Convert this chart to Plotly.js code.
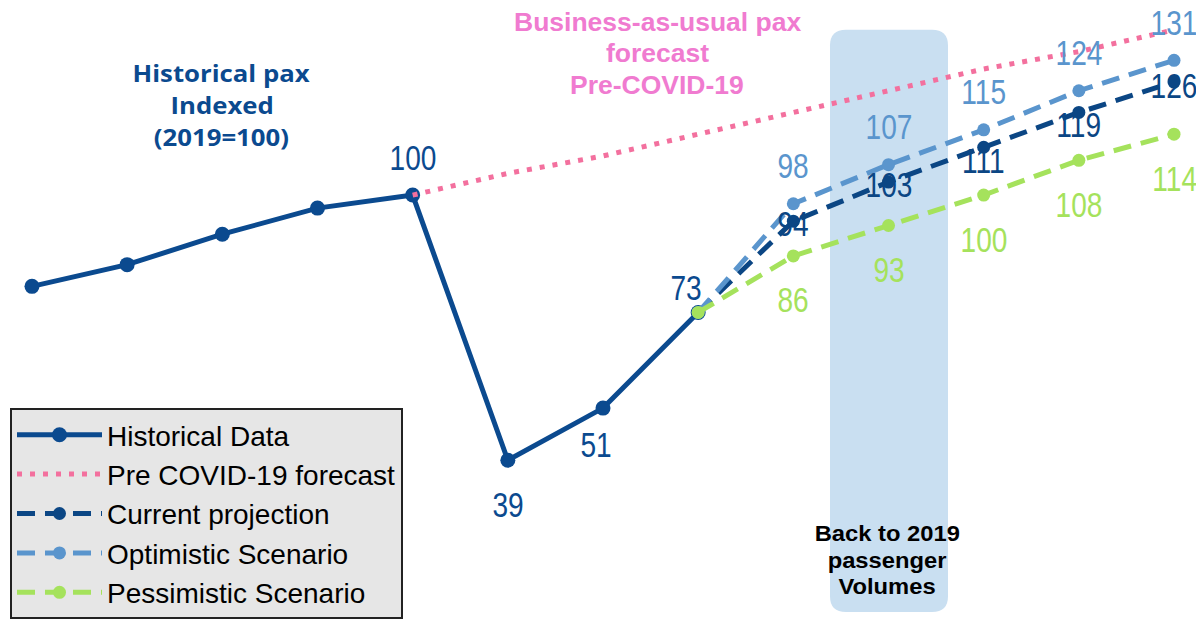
<!DOCTYPE html>
<html>
<head>
<meta charset="utf-8">
<script src="https://cdn.plot.ly/plotly-3.0.1.min.js"></script>
<style>
html,body{margin:0;padding:0;background:#fff;}
#chart{width:1196px;height:619px;}
</style>
</head>
<body>
<div id="chart"></div>
<script>
// ---- data ----
const histYears = [2015, 2016, 2017, 2018, 2019, 2020, 2021, 2022];
const histVals = [79, 84, 91, 97, 100, 39, 51, 73];
const preYears = [2019, 2020, 2021, 2022, 2023, 2024, 2025, 2026, 2027];
const preVals = [100, 105, 109, 114, 119, 124, 129, 133, 138];
const projYears = [2022, 2023, 2024, 2025, 2026, 2027];
const currentVals = [73, 94, 103, 111, 119, 126];
const optimisticVals = [73, 98, 107, 115, 124, 131];
const pessimisticVals = [73, 86, 93, 100, 108, 114];
const seriesNames = ['Historical Data', 'Pre COVID-19 forecast', 'Current projection', 'Optimistic Scenario', 'Pessimistic Scenario'];
const histNote = ['Historical pax', 'Indexed', '(2019=100)'];
const bauNote = ['Business-as-usual pax', 'forecast', 'Pre-COVID-19'];
const bandNote = ['Back to 2019', 'passenger', 'Volumes'];

// ---- styles ----
const W = 1196, H = 619;
const C_HIST = '#0b4a8f';
const C_PRE = '#f3709e';
const C_CUR = '#0b4684';
const C_OPT = '#5a95cd';
const C_PES = '#a5e25c';
const SANS = '"Liberation Sans", Arial, sans-serif';
const LBL = 36, LBL_SX = 0.78;

const traces = [
  {x: histYears, y: histVals, name: seriesNames[0], legendgroup: 'a', mode: 'lines+markers',
   line: {color: C_HIST, width: 5}, marker: {color: C_HIST, size: 15}},
  {x: preYears, y: preVals, name: seriesNames[1], legendgroup: 'b', mode: 'lines',
   line: {color: C_PRE, width: 5, dash: '5px,8px'}},
  {x: projYears, y: currentVals, name: seriesNames[2], legendgroup: 'c', mode: 'lines+markers',
   line: {color: C_CUR, width: 5, dash: '18px,10px'}, marker: {color: C_CUR, size: 13}},
  {x: projYears, y: optimisticVals, name: seriesNames[3], legendgroup: 'd', mode: 'lines+markers',
   line: {color: C_OPT, width: 5, dash: '18px,10px'}, marker: {color: C_OPT, size: 13}},
  {x: projYears, y: pessimisticVals, name: seriesNames[4], legendgroup: 'e', mode: 'lines+markers',
   line: {color: C_PES, width: 5, dash: '18px,10px'}, marker: {color: C_PES, size: 13}}
];

// ---- value labels ----
const annotations = [];
const scales = [];
function lbl(x, y, color, dx, dy) {
  annotations.push({x: x, y: y, xref: 'x', yref: 'y', text: String(y), showarrow: false,
    xanchor: 'center', yanchor: 'middle',
    xshift: dx, yshift: dy, font: {family: SANS, size: LBL, color: color}});
  scales.push(LBL_SX);
}
const histLabelOffsets = {4: [0, 38], 5: [0, -44], 6: [-7, -36], 7: [-12, 25]};
histVals.forEach((v, i) => { if (histLabelOffsets[i]) lbl(histYears[i], v, C_HIST, histLabelOffsets[i][0], histLabelOffsets[i][1]); });
const curDy = [0, -2, -2, -13, -12, -3];
for (let i = 1; i < projYears.length; i++) {
  lbl(projYears[i], optimisticVals[i], C_OPT, 0, 38);
  lbl(projYears[i], currentVals[i], C_CUR, 0, curDy[i]);
  lbl(projYears[i], pessimisticVals[i], C_PES, 0, -44);
}

// ---- text boxes (one annotation per line) ----
function note(lines, cx, cy0, gap, font, sx) {
  lines.forEach((t, i) => {
    annotations.push({xref: 'paper', yref: 'paper', x: cx / W, y: 1 - (cy0 + i * gap) / H,
      xanchor: 'center', yanchor: 'middle', showarrow: false, text: t, font: font});
    scales.push(sx);
  });
}
note(histNote, 222, 74, 32, {family: '"Open Sans", sans-serif', size: 23, color: '#0b4a8f', weight: 'bold'}, 1.12);
note(bauNote, 657, 22, 32, {family: SANS, size: 26.5, color: '#f07bd0', weight: 'bold'}, 1);
note(bandNote, 887, 539, 26.5, {family: SANS, size: 22, color: '#000', weight: 'bold'}, 1.08);

// ---- shaded band (rounded) ----
const bx0 = 830 / W, bx1 = 948 / W, byT = 1 - 30 / H, byB = 1 - 618 / H;
const rx = 16 / W, ry = 16 / H;
const bandPath = `M ${bx0 + rx},${byT} L ${bx1 - rx},${byT} Q ${bx1},${byT} ${bx1},${byT - ry} L ${bx1},${byB + ry} Q ${bx1},${byB} ${bx1 - rx},${byB} L ${bx0 + rx},${byB} Q ${bx0},${byB} ${bx0},${byB + ry} L ${bx0},${byT - ry} Q ${bx0},${byT} ${bx0 + rx},${byT} Z`;

const layout = {
  width: W, height: H,
  margin: {l: 0, r: 0, t: 0, b: 0},
  paper_bgcolor: '#fff', plot_bgcolor: 'rgba(0,0,0,0)',
  xaxis: {range: [2014.664, 2027.231], visible: false, fixedrange: true},
  yaxis: {range: [3.87, 144.87], visible: false, fixedrange: true},
  showlegend: true,
  legend: {x: 10 / W, y: 1 - 412 / H, xanchor: 'left', yanchor: 'top',
    bgcolor: '#e6e6e6', bordercolor: '#222', borderwidth: 2,
    font: {family: SANS, size: 28, color: '#000'}, itemwidth: 85, tracegroupgap: 0},
  shapes: [{type: 'path', xref: 'paper', yref: 'paper', path: bandPath,
    fillcolor: '#c9dff1', line: {width: 0}, layer: 'below'}],
  annotations: annotations
};

Plotly.newPlot('chart', traces, layout, {displayModeBar: false, staticPlot: true}).then(gd => {
  // horizontal scaling of text to mimic the narrow / wide fonts of the reference
  scales.forEach((s, i) => {
    if (s === 1) return;
    const t = gd.querySelector(`.annotation[data-index="${i}"] text.annotation-text`);
    if (t) {
      t.style.transformBox = 'fill-box';
      t.style.transformOrigin = 'center';
      t.style.transform = `scaleX(${s})`;
    }
  });
});
</script>
</body>
</html>
